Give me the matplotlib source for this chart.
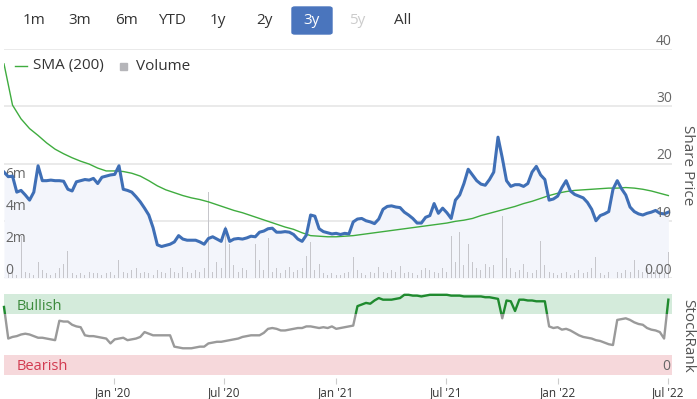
import matplotlib
matplotlib.use("Agg")
import matplotlib.pyplot as plt
import matplotlib.dates as mdates
from matplotlib.patches import Rectangle, FancyBboxPatch
import numpy as np
import pandas as pd

# ---------------- data ----------------
start_date = "2019-07-05"
price = [18.5, 17.7, 17.8, 15.0, 15.3, 14.5, 13.6, 15.0, 19.6, 17.0,
         17.0, 17.1, 17.0, 17.0, 16.9, 15.5, 15.2, 16.8, 17.0, 17.2,
         17.1, 17.4, 16.5, 17.6, 17.8, 18.0, 18.1, 19.6, 15.5, 15.3,
         15.0, 14.2, 13.3, 12.2, 11.0, 8.8, 5.8, 5.5, 5.7, 5.9,
         6.3, 7.4, 6.8, 6.6, 6.6, 6.6, 6.3, 5.9, 6.9, 7.2,
         6.8, 6.4, 8.6, 6.4, 6.8, 6.9, 6.8, 7.0, 7.3, 7.2,
         8.0, 8.2, 8.6, 8.7, 8.0, 8.0, 8.1, 8.0, 7.6, 6.8,
         6.4, 7.5, 11.0, 10.8, 8.6, 8.1, 7.9, 7.7, 7.8, 7.6,
         7.8, 7.7, 9.8, 10.3, 10.4, 10.0, 9.8, 9.5, 10.3, 12.0,
         12.5, 12.6, 12.4, 12.3, 11.5, 11.0, 10.4, 9.6, 9.6, 10.6,
         10.9, 13.0, 11.3, 12.2, 11.4, 10.4, 13.6, 14.5, 16.5, 19.0,
         18.0, 17.0, 16.4, 16.2, 17.2, 18.5, 24.6, 21.0, 17.0, 16.0,
         16.3, 16.3, 16.0, 16.5, 18.5, 19.5, 18.0, 17.2, 13.6, 13.8,
         14.3, 15.8, 17.0, 15.2, 14.6, 14.3, 14.0, 13.2, 12.0, 10.0,
         10.9, 11.2, 11.6, 15.5, 17.0, 15.6, 14.5, 12.4, 11.6, 11.2,
         11.0, 11.3, 11.5, 11.8, 11.3, 11.2, 11.5]

sma200 = [37.4, 30.2, 27.8, 26.1, 24.9, 23.6, 22.5, 21.7, 21.0, 20.4,
          19.9, 19.2, 18.7, 18.7, 18.6, 18.3, 17.8, 17.0, 16.1, 15.4,
          14.9, 14.4, 14.0, 13.7, 13.3, 12.8, 12.3, 11.8, 11.4, 10.9,
          10.4, 9.9, 9.4, 8.9, 8.5, 7.9, 7.4, 7.3, 7.2, 7.2,
          7.3, 7.4, 7.6, 7.8, 8.0, 8.2, 8.4, 8.6, 8.8, 9.0,
          9.2, 9.4, 9.6, 9.9, 10.1, 10.4, 10.9, 11.3, 11.7, 12.1,
          12.5, 13.0, 13.4, 13.9, 14.4, 14.8, 15.1, 15.3, 15.4, 15.5,
          15.6, 15.7, 15.7, 15.8, 15.7, 15.5, 15.2, 14.8, 14.4]

volume_m = [0.5, 0.3, 0.4, 0.2, 2.6, 0.4, 0.3, 0.2, 1.0, 0.5,
            0.3, 0.2, 0.3, 0.6, 0.9, 1.7, 0.3, 0.2, 0.3, 0.2,
            0.4, 0.3, 0.3, 0.2, 0.3, 0.4, 0.2, 1.1, 0.4, 0.3,
            0.5, 0.6, 0.3, 0.4, 0.3, 0.2, 0.5, 0.4, 0.3, 0.6,
            0.4, 0.3, 0.7, 0.4, 0.3, 0.5, 0.4, 0.6, 5.4, 0.4,
            1.0, 0.6, 3.25, 2.1, 0.8, 0.4, 0.6, 0.5, 3.6, 2.1,
            1.1, 0.5, 2.5, 0.4, 0.6, 0.3, 0.5, 0.7, 0.4, 0.5,
            0.6, 1.4, 2.25, 0.5, 0.9, 0.3, 0.2, 0.3, 0.2, 0.2,
            0.3, 0.4, 1.3, 0.5, 0.3, 0.2, 0.4, 0.3, 0.7, 0.4,
            0.3, 0.5, 0.4, 0.75, 0.3, 0.4, 0.3, 0.2, 0.5, 0.6,
            0.5, 0.4, 0.3, 0.6, 0.4, 2.6, 1.0, 2.9, 0.8, 2.1,
            1.0, 0.6, 0.5, 0.9, 0.7, 0.8, 1.0, 3.9, 1.25, 0.6,
            0.4, 0.5, 0.9, 0.4, 0.3, 0.5, 2.3, 0.8, 0.4, 0.3,
            0.2, 0.3, 0.4, 0.2, 0.3, 0.5, 0.3, 0.4, 0.6, 1.3,
            0.3, 0.2, 0.4, 3.0, 0.4, 0.3, 0.5, 0.4, 1.1, 0.5,
            0.4, 0.6, 0.3, 0.5, 0.4, 0.3, 1.6]

stockrank = [84, 45, 47, 48, 50, 51, 50, 48, 46, 46,
             45, 44, 43, 67, 66, 66, 62, 60, 59, 49,
             48, 48, 47, 46, 45, 39, 44, 45, 46, 43,
             44, 45, 47, 53, 51, 49, 49, 49, 49, 49,
             35, 34, 33, 33, 33, 34, 35, 35, 39, 40,
             41, 41, 42, 43, 44, 45, 47, 48, 49, 49,
             49, 52, 57, 58, 57, 55, 55, 56, 57, 58,
             58, 60, 60, 59, 58, 59, 58, 60, 57, 58,
             59, 60, 61, 85, 87, 89, 88, 92, 95, 93,
             93, 93, 94, 95, 99, 99, 98, 98, 97, 98,
             99, 99, 99, 99, 99, 98, 98, 98, 97, 97,
             97, 97, 97, 96, 96, 95, 94, 70, 92, 91,
             79, 93, 93, 92, 92, 91, 91, 91, 60, 58,
             59, 56, 57, 55, 52, 49, 47, 46, 45, 43,
             42, 40, 38, 37, 68, 69, 70, 68, 65, 63,
             62, 58, 56, 55, 53, 45, 93]

range_buttons = ["1m", "3m", "6m", "YTD", "1y", "2y", "3y", "5y", "All"]
selected_button = "3y"
disabled_button = "5y"
price_ticks = [0, 10, 20, 30, 40]
volume_ticks_m = [0, 2, 4, 6]
x_tick_dates = ["2020-01-01", "2020-07-01", "2021-01-01", "2021-07-01", "2022-01-01", "2022-07-01"]
x_tick_labels = ["Jan '20", "Jul '20", "Jan '21", "Jul '21", "Jan '22", "Jul '22"]

weekly = pd.date_range(start_date, periods=len(price), freq="7D")
biweekly = pd.date_range(start_date, periods=len(sma200), freq="14D")
vol_dates = pd.date_range(start_date, periods=len(volume_m), freq="7D")
rank_dates = pd.date_range(start_date, periods=len(stockrank), freq="7D")

xmin = pd.Timestamp("2019-07-05")
xmax = pd.Timestamp("2022-07-07")

# ---------------- figure ----------------
W, H = 697, 399
fig = plt.figure(figsize=(W / 100, H / 100), dpi=100)
plt.rcParams['font.family'] = ['Open Sans', 'DejaVu Sans']

def fx(px):
    return px / W

def fy(py):
    return 1 - py / H

TXT = "#333333"
LBL = "#666666"
GRID = "#e6e6e6"

left_px, right_px = 4, 672
rect_main = [fx(left_px), fy(278), fx(right_px - left_px), (278 - 49) / H]

def bare(a):
    for s in a.spines.values():
        s.set_visible(False)
    a.set_xticks([])
    a.set_yticks([])
    a.patch.set_alpha(0)
    a.set_xlim(xmin, xmax)

# layer 1: grid + fill
ax = fig.add_axes(rect_main, zorder=1)
bare(ax)
ax.set_ylim(0, 40)
for t in price_ticks:
    ax.axhline(t, color=GRID, lw=1.2, zorder=0)
ax.fill_between(weekly, price, 0, color="#f3f5fb", zorder=0.5, lw=0)

# layer 2: volume
axv = fig.add_axes(rect_main, zorder=2)
bare(axv)
axv.set_ylim(0, 229 / 16.0)
axv.bar(vol_dates, volume_m, width=1.6, color="#c6c6cb", zorder=1, lw=0)
for v in volume_ticks_m:
    lab = "0" if v == 0 else f"{v}m"
    axv.text(0.002, v, lab, transform=axv.get_yaxis_transform(), ha="left", va="bottom",
             fontsize=10, color=LBL, zorder=5)

# layer 3: price lines
axl = fig.add_axes(rect_main, zorder=3)
bare(axl)
axl.set_ylim(0, 40)
axl.plot(biweekly, sma200, color="#3fac3f", lw=1.0, zorder=2)
axl.plot(weekly, price, color="#3f6fb6", lw=2.2, zorder=3, solid_joinstyle="round")
for t in price_ticks:
    lab = "0.00" if t == 0 else str(t)
    axl.text(1.0, t, lab, transform=axl.get_yaxis_transform(), ha="right", va="bottom",
             fontsize=10, color=LBL, zorder=5)

# legend
fig.add_artist(plt.Line2D([fx(15), fx(27)], [fy(66), fy(66)], color="#3fac3f", lw=1.0))
fig.text(fx(33), fy(66), "SMA (200)", fontsize=11, color=TXT, va="center", ha="left")
fig.add_artist(Rectangle((fx(120), fy(70)), 7 / W, 7 / H, color="#b5b5b9", transform=fig.transFigure))
fig.text(fx(136), fy(66), "Volume", fontsize=11, color=TXT, va="center", ha="left")

# axis titles
fig.text(fx(688), fy(165), "Share Price", rotation=-90, fontsize=11, color="#555555",
         ha="center", va="center")
fig.text(fx(688), fy(336), "StockRank", rotation=-90, fontsize=11, color="#555555",
         ha="center", va="center")

# range buttons
btn_x = [34, 80, 126, 172, 218, 264, 312, 357, 403]
for lab, bx in zip(range_buttons, btn_x):
    col = TXT
    if lab == selected_button:
        fig.add_artist(FancyBboxPatch((fx(bx - 20), fy(34)), 40 / W, 27 / H,
                                      boxstyle="round,pad=0,rounding_size=0.004",
                                      color="#4a75bd", transform=fig.transFigure))
        col = "white"
    elif lab == disabled_button:
        col = "#cccccc"
    fig.text(fx(bx), fy(20), lab, fontsize=11, color=col, ha="center", va="center")

# ---------------- StockRank panel ----------------
axr = fig.add_axes([fx(left_px), fy(378), fx(right_px - left_px), 88 / H])
axr.set_xlim(xmin, xmax)
axr.set_ylim((375 - 378) / 0.81, (375 - 290) / 0.81)
for s in axr.spines.values():
    s.set_visible(False)
axr.set_yticks([])
axr.axhspan(75, 100, color="#d4ebdb", zorder=0, lw=0)
axr.axhspan(0, 25, color="#f6d8db", zorder=0, lw=0)
axr.text(13 / 668, 84, "Bullish", transform=axr.get_yaxis_transform(), fontsize=10.5,
         color="#3b8a3b", va="center", ha="left")
axr.text(13 / 668, 10, "Bearish", transform=axr.get_yaxis_transform(), fontsize=10.5,
         color="#d23a50", va="center", ha="left")
axr.text(0.998, 10, "0", transform=axr.get_yaxis_transform(), fontsize=10,
         color=LBL, va="center", ha="right")

xa, xb = mdates.date2num(xmin) - 10, mdates.date2num(xmax) + 20
l1, = axr.plot(rank_dates, stockrank, color="#9a9a9a", lw=1.7, zorder=2)
l1.set_clip_path(Rectangle((xa, -20), xb - xa, 95, transform=axr.transData))
l2, = axr.plot(rank_dates, stockrank, color="#1f8a2e", lw=1.7, zorder=3)
l2.set_clip_path(Rectangle((xa, 75), xb - xa, 40, transform=axr.transData))

axr.set_xticks(pd.to_datetime(x_tick_dates))
axr.set_xticklabels(x_tick_labels)
axr.tick_params(axis="x", length=4, color="#cccccc", labelsize=8.5, labelcolor=TXT, pad=2)

fig.savefig("out.png", dpi=100)
